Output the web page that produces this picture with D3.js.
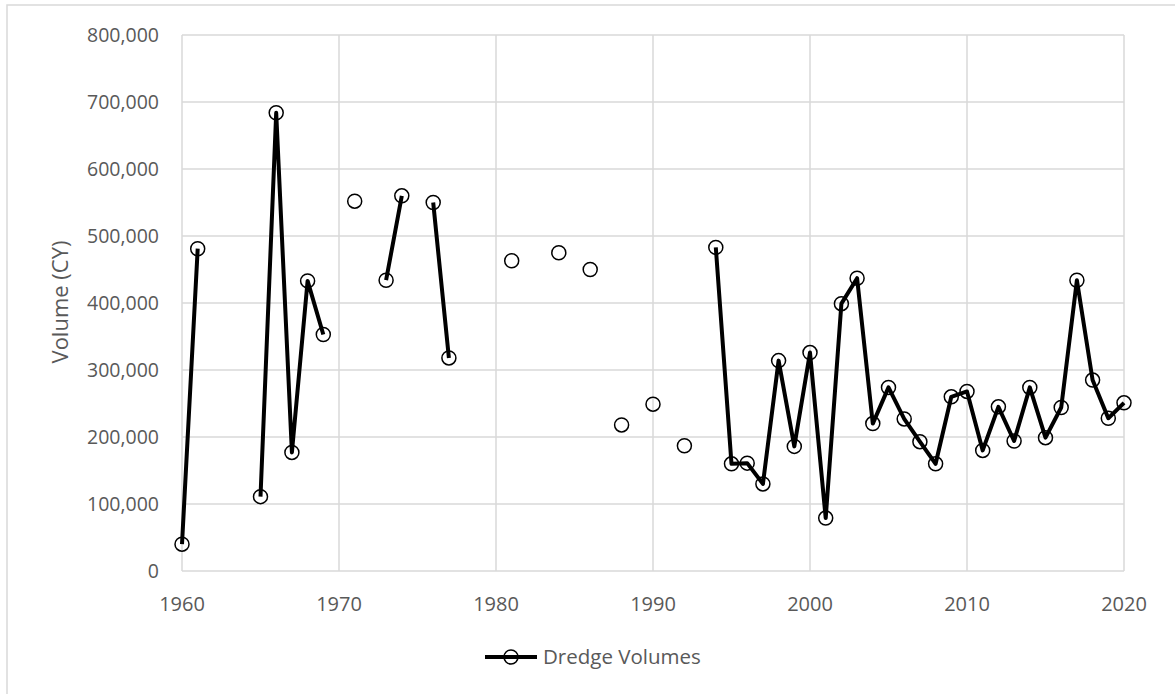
<!DOCTYPE html>
<html>
<head>
<meta charset="utf-8">
<script src="https://cdn.jsdelivr.net/npm/d3@7"></script>
<style>
  body { margin: 0; background: #fff; }
  text { font-family: "Open Sans", Lato, sans-serif; fill: #595959; }
</style>
</head>
<body>
<svg id="chart" width="1175" height="694"></svg>
<script>
// dredge volumes (CY) by year; missing years = no dredging
var years = [1960, 1961, 1965, 1966, 1967, 1968, 1969, 1971, 1973, 1974, 1976, 1977,
             1981, 1984, 1986, 1988, 1990, 1992, 1994, 1995, 1996, 1997, 1998, 1999,
             2000, 2001, 2002, 2003, 2004, 2005, 2006, 2007, 2008, 2009, 2010, 2011,
             2012, 2013, 2014, 2015, 2016, 2017, 2018, 2019, 2020];
var volumes = [40000, 481000, 111000, 684000, 177000, 433000, 353000, 552000, 434000, 560000, 550000, 318000,
               463000, 475000, 450000, 218000, 249000, 187000, 483000, 160000, 161000, 130000, 314000, 186000,
               326000, 79000, 399000, 437000, 220000, 274000, 227000, 193000, 160000, 260000, 268000, 180000,
               245000, 194000, 274000, 199000, 244000, 434000, 285000, 228000, 251000];
var xTicks = [1960, 1970, 1980, 1990, 2000, 2010, 2020];
var yTicks = [0, 100000, 200000, 300000, 400000, 500000, 600000, 700000, 800000];
var seriesName = "Dredge Volumes";
var yTitle = "Volume (CY)";

var data = years.map(function(y, i) { return {year: y, v: volumes[i]}; });

var svg = d3.select("#chart");
var pLeft = 182, pRight = 1124, pTop = 35, pBottom = 571;

// outer chart border
svg.append("rect").attr("x", 7).attr("y", 5).attr("width", 1200).attr("height", 720)
  .attr("fill", "none").attr("stroke", "#d9d9d9").attr("stroke-width", 1.5);

var x = d3.scaleLinear().domain([1960, 2020]).range([pLeft, pRight]);
var y = d3.scaleLinear().domain([0, 800000]).range([pBottom, pTop]);

// gridlines
svg.append("g").selectAll("line").data(yTicks).join("line")
  .attr("x1", pLeft).attr("x2", pRight)
  .attr("y1", function(d) { return y(d); }).attr("y2", function(d) { return y(d); })
  .attr("stroke", "#d9d9d9").attr("stroke-width", 1.5);
svg.append("g").selectAll("line").data(xTicks).join("line")
  .attr("x1", function(d) { return x(d); }).attr("x2", function(d) { return x(d); })
  .attr("y1", pTop).attr("y2", pBottom)
  .attr("stroke", "#d9d9d9").attr("stroke-width", 1.5);

// tick labels
var fmt = d3.format(",");
svg.append("g").selectAll("text").data(yTicks).join("text")
  .attr("x", 159).attr("y", function(d) { return y(d); })
  .attr("dy", "0.35em").attr("text-anchor", "end")
  .style("font-size", "19.5px").text(function(d) { return fmt(d); });
svg.append("g").selectAll("text").data(xTicks).join("text")
  .attr("x", function(d) { return x(d); }).attr("y", 604)
  .attr("dy", "0.35em").attr("text-anchor", "middle")
  .style("font-size", "20px").text(function(d) { return d; });

svg.append("text")
  .attr("transform", "translate(60,302) rotate(-90)")
  .attr("text-anchor", "middle").attr("dy", "0.35em")
  .style("font-size", "22px").text(yTitle);

// line broken where years are missing
var line = d3.line()
  .defined(function(d) { return d.v != null; })
  .x(function(d) { return x(d.year); })
  .y(function(d) { return y(d.v); });

var full = d3.range(1960, 2021).map(function(yr) {
  var i = years.indexOf(yr);
  return {year: yr, v: i < 0 ? null : volumes[i]};
});

svg.append("path").datum(full)
  .attr("d", line)
  .attr("fill", "none").attr("stroke", "#000").attr("stroke-width", 4)
  .attr("stroke-linejoin", "round");

svg.append("g").selectAll("circle").data(data).join("circle")
  .attr("cx", function(d) { return x(d.year); })
  .attr("cy", function(d) { return y(d.v); })
  .attr("r", 7)
  .attr("fill", "none").attr("stroke", "#000").attr("stroke-width", 1.5);

// legend
var lg = svg.append("g").attr("transform", "translate(485,657)");
lg.append("line").attr("x1", 0).attr("x2", 52).attr("y1", 0).attr("y2", 0)
  .attr("stroke", "#000").attr("stroke-width", 4);
lg.append("circle").attr("cx", 26).attr("cy", 0).attr("r", 7)
  .attr("fill", "none").attr("stroke", "#000").attr("stroke-width", 1.5);
lg.append("text").attr("x", 58).attr("y", 0).attr("dy", "0.35em")
  .style("font-size", "20.5px").text(seriesName);
</script>
</body>
</html>
